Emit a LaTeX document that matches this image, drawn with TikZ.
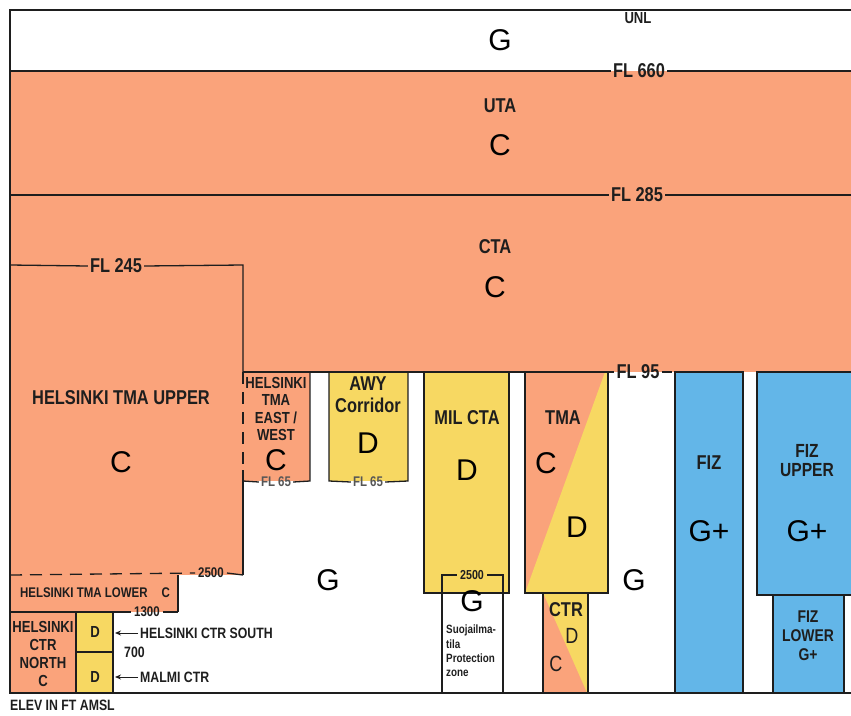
\documentclass[tikz,border=0pt]{standalone}
\usepackage{fontspec}
\setmainfont{Liberation Sans}
\newfontfamily\cond[FakeStretch=0.82]{Liberation Sans}
\usetikzlibrary{arrows.meta}
\definecolor{orng}{RGB}{250,163,123}
\definecolor{yel}{RGB}{247,216,98}
\definecolor{blu}{RGB}{99,182,232}
\definecolor{ink}{RGB}{30,30,30}
\tikzset{
  edge/.style={draw=ink, line width=1.3pt},
  dashedge/.style={draw=ink, line width=1.3pt, dash pattern=on 12pt off 8pt},
  lbl/.style={inner sep=2pt, text=ink, font=\cond\bfseries\fontsize{20}{22}\selectfont, align=center},
  lblm/.style={inner sep=2pt, text=ink, font=\cond\bfseries\fontsize{16}{18}\selectfont, align=center},
  lbls/.style={inner sep=2pt, text=ink, font=\cond\bfseries\fontsize{14}{15}\selectfont, align=center},
  big/.style={inner sep=0pt, text=black, font=\fontsize{30}{30}\selectfont},
  pointer/.style={draw=ink, line width=1pt, -{Stealth[length=6pt,width=5pt]}}
}
\begin{document}
\begin{tikzpicture}[x=1pt,y=-1pt]
\useasboundingbox (0,0) rectangle (851,715);
% ---------- fills ----------
\fill[orng] (10,71) rectangle (851,372);
\fill[orng] (10,265) rectangle (243,575);
\fill[orng] (243,372) rectangle (310,481);
\fill[yel] (329,372) rectangle (408,481);
\fill[yel] (424,372) rectangle (509,593);
\fill[orng] (525,372) rectangle (608,593);
\fill[yel] (605,372) -- (608,372) -- (608,593) -- (525,593) -- cycle;
\fill[yel] (543,593) rectangle (588,693);
\fill[orng] (543,593) -- (587,693) -- (543,693) -- cycle;
\fill[blu] (675,372) rectangle (743,693);
\fill[blu] (757,372) rectangle (851,595);
\fill[blu] (773,595) rectangle (844,693);
\fill[orng] (10,575) rectangle (178,612);
\fill[orng] (10,612) rectangle (76,693);
\fill[yel] (76,612) rectangle (113,693);

% ---------- level labels ----------
\node[lblm] (unl) at (638,18) {UNL};
\node[lbl] (fl660) at (639,71) {FL 660};
\node[lbl] (fl285) at (637,195) {FL 285};
\node[lbl] (fl245) at (116,266) {FL 245};
\node[lbl] (fl95) at (638,372) {FL 95};
\node[lbls, text=ink!75] (fl65a) at (276,482) {FL 65};
\node[lbls, text=ink!75] (fl65b) at (368,482) {FL 65};
\node[lbls, inner sep=3pt, font=\cond\bfseries\fontsize{13}{14}\selectfont] (s2500) at (472,575) {2500};
\node[lbls, inner sep=3pt] (l2500) at (211,573) {2500};
\node[lbls, inner sep=3pt] (l1300) at (147,612) {1300};

% ---------- coordinates ----------
\coordinate (tl) at (10,10);
\coordinate (tr) at (851,10);
\coordinate (bl) at (10,693);
\coordinate (br) at (851,693);

% ---------- lines ----------
\draw[edge] (tr) -- (tl) -- (bl) -- (br);
\draw[edge] (10,71) -- (fl660.west);
\draw[edge] (fl660.east) -- (851,71);
\draw[edge] (10,195) -- (fl285.west);
\draw[edge] (fl285.east) -- (851,195);
\draw[edge] (10,265) -- (fl245.west);
\draw[edge] (fl245.east) -- (243,265) -- (243,372);
\draw[edge] (243,372) -- (fl95.west);
\draw[edge] (fl95.east) -- (672,372);
\draw[dashedge] (243,372) -- (243,470);
\draw[edge] (243,470) -- (243,575);
\draw[edge] (243,481) -- (fl65a.west);
\draw[edge] (fl65a.east) -- (310,481) -- (310,372);
\draw[edge] (329,372) -- (329,481) -- (fl65b.west);
\draw[edge] (fl65b.east) -- (408,481) -- (408,372);
\draw[edge] (424,372) rectangle (509,593);
\draw[edge] (525,372) rectangle (608,593);
\draw[edge] (543,593) rectangle (588,693);
\draw[edge] (442,693) -- (442,575) -- (s2500.west);
\draw[edge] (s2500.east) -- (503,575) -- (503,693);
\draw[edge] (675,372) rectangle (743,693);
\draw[edge] (851,372) -- (757,372) -- (757,595) -- (851,595);
\draw[edge] (773,595) rectangle (844,693);
\draw[dashedge] (10,575) -- (l2500.west);
\draw[edge] (l2500.east) -- (243,575);
\draw[edge] (178,575) -- (178,612);
\draw[edge] (10,612) -- (l1300.west);
\draw[edge] (l1300.east) -- (178,612);
\draw[edge] (76,612) -- (76,693);
\draw[edge] (113,612) -- (113,693);
\draw[edge] (76,652) -- (113,652);

% ---------- area labels ----------
\node[big] (topG) at (500,40) {G};
\node[lbl] (uta) at (500,106) {UTA};
\node[big] (utaC) at (500,145) {C};
\node[lbl] (cta) at (495,247) {CTA};
\node[big] (ctaC) at (495,287) {C};
\node[lbl] (tmaup) at (121,398) {HELSINKI TMA UPPER};
\node[big] (tmaupC) at (121,462) {C};
\node[lblm, font=\cond\bfseries\fontsize{16}{17.5}\selectfont] (ew) at (276,409) {HELSINKI\\TMA\\EAST /\\WEST};
\node[big] (ewC) at (276,460) {C};
\node[lbl] (awy) at (368,395) {AWY\\Corridor};
\node[big] (awyD) at (368,443) {D};
\node[lbl] (mil) at (467,418) {MIL CTA};
\node[big] (milD) at (467,470) {D};
\node[lbl] (tma) at (563,418) {TMA};
\node[big] (tmaC) at (546,463) {C};
\node[big] (tmaD) at (577,527) {D};
\node[lbl] (ctr) at (566,610) {CTR};
\node[lbl, font=\cond\fontsize{22}{22}\selectfont] (ctrD) at (572,636) {D};
\node[lbl, font=\cond\fontsize{22}{22}\selectfont] (ctrC) at (556,664) {C};
\node[big] (sulaG) at (472,601) {G};
\node[inner sep=0pt, text=ink, anchor=west, align=left, font=\cond\bfseries\fontsize{12}{14.3}\selectfont] (sula) at (446,651) {Suojailma-\\tila\\Protection\\zone};
\node[big] (gmid) at (328,580) {G};
\node[big] (gright) at (634,580) {G};
\node[lbl] (fiz) at (709,463) {FIZ};
\node[big] (fizG) at (709,531) {G+};
\node[lbl, font=\cond\bfseries\fontsize{19}{19}\selectfont] (fizup) at (807,461) {FIZ\\UPPER};
\node[big] (fizupG) at (807,531) {G+};
\node[lbl, font=\cond\bfseries\fontsize{17}{19}\selectfont] (fizlow) at (808,636) {FIZ\\LOWER\\G+};
\node[lbls] (tmalow) at (95,593) {HELSINKI TMA LOWER\quad C};
\node[lblm, font=\cond\bfseries\fontsize{16}{18}\selectfont] (ctrn) at (43,654) {HELSINKI\\CTR\\NORTH\\C};
\node[lblm] (dS) at (95,632) {D};
\node[lblm] (dM) at (95,677) {D};
\node[lbls, font=\cond\bfseries\fontsize{15}{16}\selectfont, anchor=west] (south) at (138,633) {HELSINKI CTR SOUTH};
\node[lbls, font=\cond\bfseries\fontsize{15}{16}\selectfont, anchor=west] (h700) at (122,652) {700};
\node[lbls, font=\cond\bfseries\fontsize{15}{16}\selectfont, anchor=west] (malmi) at (138,677) {MALMI CTR};
\coordinate (southtip) at (115,633);
\coordinate (malmitip) at (115,677);
\draw[pointer] (south.west) -- (southtip);
\draw[pointer] (malmi.west) -- (malmitip);
\node[lblm, font=\cond\bfseries\fontsize{15}{16}\selectfont, anchor=west, inner sep=0pt] (elev) at (10,705) {ELEV IN FT AMSL};
\end{tikzpicture}
\end{document}
